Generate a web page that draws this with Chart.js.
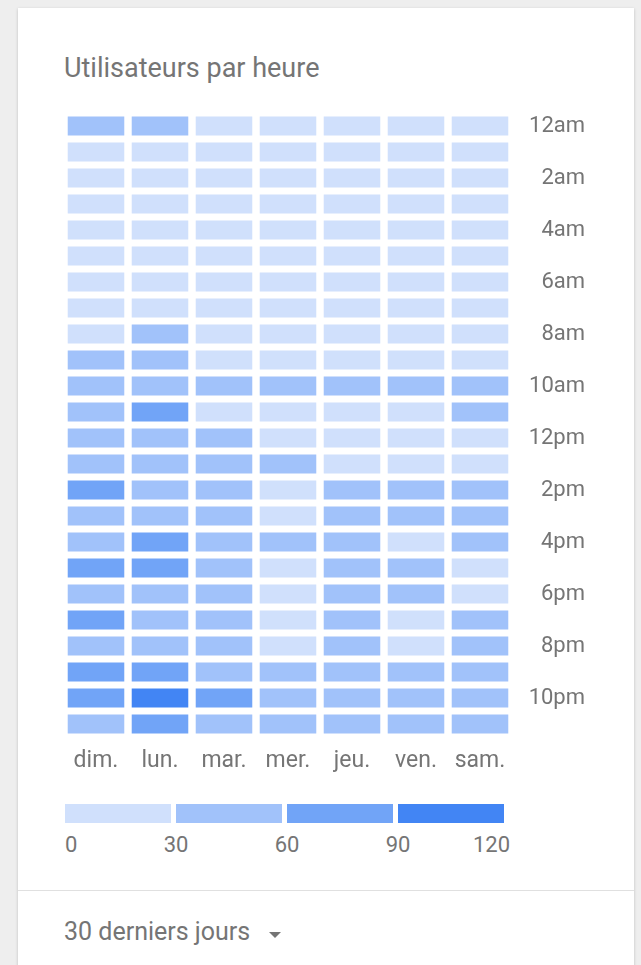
<!DOCTYPE html>
<html>
<head>
<meta charset="utf-8">
<script src="https://cdn.jsdelivr.net/npm/chart.js@4/dist/chart.umd.min.js"></script>
<style>
  body { margin: 0; background: #eeeeee; font-family: Roboto, sans-serif; width: 641px; height: 965px; overflow: hidden; position: relative; }
  #card { position: absolute; left: 18px; top: 8px; width: 616px; height: 1000px; background: #fff; box-shadow: 0 1px 3px rgba(0,0,0,0.2); }
  #title { position: absolute; left: 46px; top: 44px; font-size: 27px; line-height: 32px; color: #757575; white-space: nowrap; }
  #wrap { position: absolute; left: 42px; top: 97px; width: 540px; height: 680px; }
  .seg { position: absolute; top: 796px; height: 19px; }
  .lbl { position: absolute; top: 824px; font-size: 22px; line-height: 26px; color: #757575; }
  #divider { position: absolute; left: 0; right: 0; top: 882px; height: 1px; background: #e0e0e0; }
  #range { position: absolute; left: 46px; top: 909px; font-size: 25px; line-height: 30px; color: #757575; white-space: nowrap; }
  #caret { position: absolute; left: 251px; top: 924px; width: 0; height: 0; border-left: 6px solid transparent; border-right: 6px solid transparent; border-top: 6px solid #757575; }
</style>
</head>
<body>
<div id="card">
  <div id="title">Utilisateurs par heure</div>
  <div id="wrap"><canvas id="heatmap" width="540" height="680"></canvas></div>
  <div id="divider"></div>
  <div id="range">30 derniers jours</div>
  <div id="caret"></div>
</div>
<script>
// jours de la semaine (colonnes)
var days = ['dim.', 'lun.', 'mar.', 'mer.', 'jeu.', 'ven.', 'sam.'];
// heures (lignes)
var hourLabels = ['12am','1am','2am','3am','4am','5am','6am','7am','8am','9am','10am','11am',
                  '12pm','1pm','2pm','3pm','4pm','5pm','6pm','7pm','8pm','9pm','10pm','11pm'];

// utilisateurs par heure, un tableau par jour (12am -> 11pm)
var usersDim = [36, 18, 12, 9, 7, 8, 11, 15, 24, 41, 52, 49, 47, 50, 68, 55, 58, 64, 54, 67, 57, 71, 74, 49];
var usersLun = [34, 16, 10, 8, 6, 7, 10, 17, 38, 44, 55, 66, 53, 51, 56, 54, 63, 69, 57, 55, 52, 65, 98, 62];
var usersMar = [22, 12, 8, 6, 5, 6, 9, 14, 21, 27, 42, 26, 38, 45, 48, 43, 47, 49, 44, 46, 42, 52, 67, 44];
var usersMer = [19, 11, 7, 6, 5, 6, 8, 13, 20, 24, 40, 25, 27, 36, 22, 18, 39, 24, 21, 23, 26, 37, 45, 41];
var usersJeu = [18, 10, 7, 5, 4, 5, 8, 12, 19, 25, 43, 27, 26, 28, 44, 46, 48, 47, 45, 43, 41, 47, 50, 40];
var usersVen = [17, 10, 6, 5, 4, 5, 7, 11, 18, 23, 39, 24, 25, 27, 42, 40, 28, 45, 43, 27, 25, 44, 48, 42];
var usersSam = [20, 12, 9, 7, 6, 6, 8, 12, 17, 22, 38, 33, 26, 24, 41, 44, 40, 26, 23, 39, 42, 46, 49, 45];

// échelle de couleur
var scaleTicks = [0, 30, 60, 90, 120];
var scaleColors = ['#d0e0fc', '#a1c2fa', '#71a4f7', '#4285f4'];

var usersByDay = [usersDim, usersLun, usersMar, usersMer, usersJeu, usersVen, usersSam];

function colorFor(v) {
  for (var i = 0; i < scaleColors.length; i++) {
    if (v < scaleTicks[i + 1]) return scaleColors[i];
  }
  return scaleColors[scaleColors.length - 1];
}

function noPadding(s) {
  s.paddingTop = 0; s.paddingBottom = 0; s.paddingLeft = 0; s.paddingRight = 0;
}

// un dataset par heure, une barre flottante par jour
var datasets = hourLabels.map(function(h, hi) {
  return {
    label: h,
    data: days.map(function() { return [hi + 0.1, hi + 0.9]; }),
    users: usersByDay.map(function(arr) { return arr[hi]; }),
    backgroundColor: usersByDay.map(function(arr) { return colorFor(arr[hi]); }),
    borderColor: 'rgba(255,255,255,0.2)',
    borderWidth: 1,
    borderSkipped: false,
    grouped: false,
    barPercentage: 0.915,
    categoryPercentage: 1
  };
});

new Chart(document.getElementById('heatmap'), {
  type: 'bar',
  data: { labels: days, datasets: datasets },
  options: {
    responsive: false,
    animation: false,
    layout: { padding: { left: 4, right: 15, top: 8, bottom: 3 } },
    plugins: {
      legend: { display: false },
      tooltip: {
        callbacks: {
          label: function(ctx) { return ctx.dataset.label + ': ' + ctx.dataset.users[ctx.dataIndex]; }
        }
      }
    },
    scales: {
      x: {
        grid: { display: false, drawTicks: false },
        border: { display: false },
        ticks: { color: '#757575', font: { family: 'Roboto', size: 23 }, padding: 10 },
        afterFit: function(s) { s.height = 45; noPadding(s); }
      },
      y: {
        type: 'linear',
        position: 'right',
        reverse: true,
        min: 0,
        max: 24,
        grid: { display: false, drawTicks: false },
        border: { display: false },
        afterBuildTicks: function(s) {
          s.ticks = hourLabels.map(function(l, i) { return { value: i + 0.5 }; })
                              .filter(function(t, i) { return i % 2 === 0; });
        },
        ticks: {
          autoSkip: false,
          crossAlign: 'far',
          padding: 16,
          color: '#757575',
          font: { family: 'Roboto', size: 22 },
          callback: function(v) { return hourLabels[Math.floor(v)]; }
        },
        afterFit: function(s) { s.width = 73; noPadding(s); }
      }
    }
  }
});

// légende de l'échelle de couleur
var box = document.getElementById('card');
var x0 = 47, segW = 106, gap = 5;
scaleColors.forEach(function(c, i) {
  var d = document.createElement('div');
  d.className = 'seg';
  d.style.left = (x0 + i * (segW + gap)) + 'px';
  d.style.width = segW + 'px';
  d.style.background = c;
  box.appendChild(d);
});
scaleTicks.forEach(function(t, i) {
  var d = document.createElement('div');
  d.className = 'lbl';
  d.textContent = t;
  var edge = x0 + i * (segW + gap);
  if (i === 0) { d.style.left = x0 + 'px'; }
  else if (i === scaleTicks.length - 1) { d.style.left = (edge - 60) + 'px'; d.style.width = '61px'; d.style.textAlign = 'right'; }
  else { d.style.left = (edge - 30) + 'px'; d.style.width = '60px'; d.style.textAlign = 'center'; }
  box.appendChild(d);
});
</script>
</body>
</html>
